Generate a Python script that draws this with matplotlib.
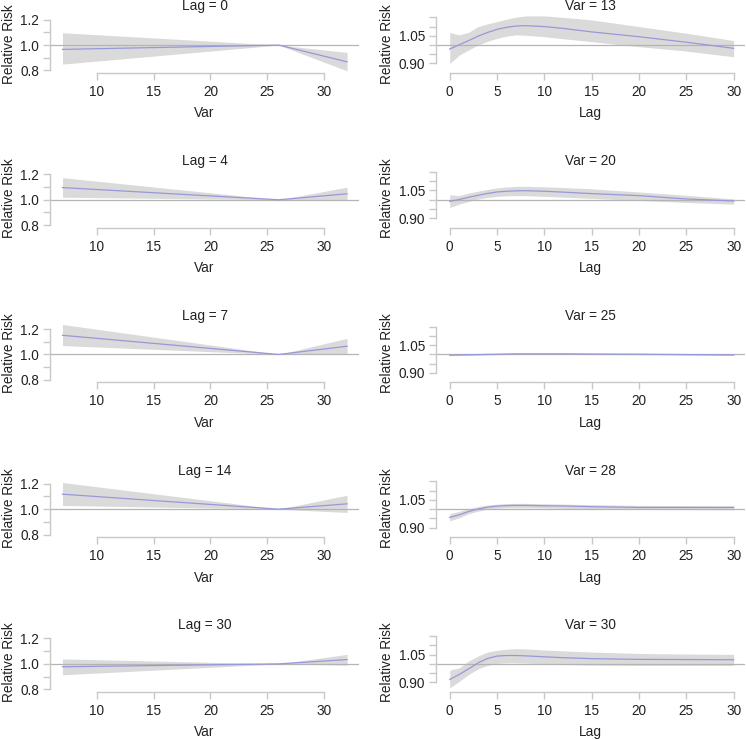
import matplotlib
matplotlib.use("Agg")
import matplotlib.pyplot as plt

plt.rcParams['font.family'] = ['Liberation Sans', 'DejaVu Sans']

# ---- left column: relative risk along Var, for a fixed lag ----
var_lags = [0, 4, 7, 14, 30]
var_x = [7, 26, 32]

var_fit = [
    [0.966, 1.0, 0.868],
    [1.096, 1.0, 1.047],
    [1.151, 1.0, 1.065],
    [1.118, 1.0, 1.042],
    [0.977, 1.0, 1.034],
]
var_upper = [
    [1.097, 1.0, 0.942],
    [1.174, 1.0, 1.099],
    [1.236, 1.0, 1.127],
    [1.210, 1.0, 1.110],
    [1.039, 1.0, 1.075],
]
var_lower = [
    [0.850, 1.0, 0.797],
    [1.020, 1.0, 0.995],
    [1.070, 1.0, 1.000],
    [1.029, 1.0, 0.974],
    [0.914, 1.0, 0.990],
]

# ---- right column: relative risk along Lag, for a fixed Var ----
lag_vars = [13, 20, 25, 28, 30]
lag_x = [0, 1, 2, 3, 4, 5, 6, 7, 8, 10, 12, 15, 20, 25, 30]

lag_fit = [
    [0.978, 1.001, 1.024, 1.048, 1.068, 1.085, 1.096, 1.103, 1.105, 1.100, 1.090, 1.071, 1.045, 1.015, 0.982],
    [0.991, 1.001, 1.013, 1.024, 1.034, 1.042, 1.046, 1.048, 1.049, 1.046, 1.041, 1.033, 1.022, 1.004, 0.993],
    [0.996, 0.997, 0.998, 0.999, 1.000, 1.001, 1.002, 1.003, 1.003, 1.003, 1.003, 1.002, 1.001, 0.999, 0.997],
    [0.955, 0.969, 0.987, 1.000, 1.011, 1.016, 1.019, 1.020, 1.020, 1.018, 1.017, 1.013, 1.009, 1.009, 1.009],
    [0.915, 0.942, 0.973, 1.005, 1.029, 1.042, 1.045, 1.045, 1.043, 1.038, 1.033, 1.028, 1.024, 1.023, 1.022],
]
lag_upper = [
    [1.067, 1.055, 1.069, 1.100, 1.115, 1.127, 1.140, 1.151, 1.158, 1.158, 1.150, 1.136, 1.100, 1.064, 1.024],
    [1.027, 1.022, 1.036, 1.046, 1.056, 1.064, 1.069, 1.072, 1.073, 1.070, 1.066, 1.059, 1.042, 1.024, 1.004],
    [0.999, 1.000, 1.001, 1.002, 1.003, 1.004, 1.005, 1.006, 1.006, 1.006, 1.006, 1.005, 1.004, 1.002, 1.000],
    [0.975, 0.988, 1.002, 1.014, 1.022, 1.027, 1.030, 1.031, 1.031, 1.029, 1.027, 1.024, 1.020, 1.019, 1.018],
    [0.965, 0.978, 1.015, 1.042, 1.064, 1.073, 1.079, 1.082, 1.081, 1.075, 1.070, 1.064, 1.056, 1.053, 1.051],
]
lag_lower = [
    [0.900, 0.945, 0.973, 1.000, 1.020, 1.036, 1.048, 1.055, 1.053, 1.045, 1.034, 1.018, 0.991, 0.967, 0.936],
    [0.958, 0.976, 0.990, 1.004, 1.012, 1.018, 1.021, 1.022, 1.022, 1.018, 1.014, 1.007, 0.996, 0.985, 0.976],
    [0.993, 0.994, 0.995, 0.996, 0.997, 0.998, 0.999, 1.000, 1.000, 1.000, 1.000, 0.999, 0.998, 0.996, 0.994],
    [0.936, 0.953, 0.975, 0.989, 1.000, 1.005, 1.007, 1.007, 1.007, 1.006, 1.004, 1.000, 0.998, 0.997, 0.996],
    [0.869, 0.905, 0.942, 0.973, 0.991, 1.002, 1.005, 1.005, 1.004, 1.000, 0.996, 0.993, 0.991, 0.991, 0.991],
]

left_yticks = [0.8, 0.9, 1.0, 1.1, 1.2]
left_ylabels = ['0.8', '', '1.0', '', '1.2']
right_yticks = [0.90, 0.95, 1.00, 1.05, 1.10, 1.15]
right_ylabels = ['0.90', '', '', '1.05', '', '']

W, H = 746, 740
FS = 9.8
band_col = '#dadada'
line_col = '#9898d8'
ref_col = '#b4b4b4'
axis_col = '#c8c8c8'
text_col = '#222222'

fig = plt.figure(figsize=(W / 100, H / 100), dpi=100)


def make_ax(left_px, right_px, spine_px):
    return fig.add_axes([left_px / W, 1 - spine_px / H,
                         (right_px - left_px) / W, 58.4 / H])


def style(ax, xticks, yticks, ylabels, xb, yb):
    for s in ['top', 'right']:
        ax.spines[s].set_visible(False)
    for s in ['left', 'bottom']:
        ax.spines[s].set_color(axis_col)
        ax.spines[s].set_linewidth(1.0)
    ax.spines['bottom'].set_bounds(*xb)
    ax.spines['left'].set_bounds(*yb)
    ax.set_xticks(xticks)
    ax.set_yticks(yticks)
    ax.set_yticklabels(ylabels)
    ax.tick_params(axis='both', length=5, width=1.0, color=axis_col,
                   labelsize=FS, labelcolor=text_col)
    ax.tick_params(axis='x', pad=3.5)
    ax.tick_params(axis='y', pad=3)
    ax.set_ylabel('Relative Risk', fontsize=FS, color=text_col, labelpad=3)


for r in range(5):
    spine_y = 73 + 154.7 * r

    # left column
    ax = make_ax(50, 359, spine_y)
    ax.fill_between(var_x, var_lower[r], var_upper[r], color=band_col, lw=0, clip_on=False)
    ax.axhline(1.0, color=ref_col, lw=0.9)
    ax.plot(var_x, var_fit[r], color=line_col, lw=0.9)
    ax.set_xlim(5.90, 33.05)
    ax.set_ylim(0.78, 1.24)
    style(ax, [10, 15, 20, 25, 30], left_yticks, left_ylabels, (10, 30), (0.8, 1.2))
    ax.set_xlabel('Var', fontsize=FS, color=text_col, labelpad=5.5)
    ax.set_title(f'Lag = {var_lags[r]}', fontsize=FS, color=text_col, pad=3)

    # right column
    ax = make_ax(436, 745, spine_y)
    ax.fill_between(lag_x, lag_lower[r], lag_upper[r], color=band_col, lw=0, clip_on=False)
    ax.axhline(1.0, color=ref_col, lw=0.9)
    ax.plot(lag_x, lag_fit[r], color=line_col, lw=0.9)
    ax.set_xlim(-1.45, 31.2)
    ax.set_ylim(0.848, 1.165)
    style(ax, [0, 5, 10, 15, 20, 25, 30], right_yticks, right_ylabels, (0, 30), (0.90, 1.15))
    ax.set_xlabel('Lag', fontsize=FS, color=text_col, labelpad=5.5)
    ax.set_title(f'Var = {lag_vars[r]}', fontsize=FS, color=text_col, pad=3)

fig.savefig('out.png', dpi=100)
